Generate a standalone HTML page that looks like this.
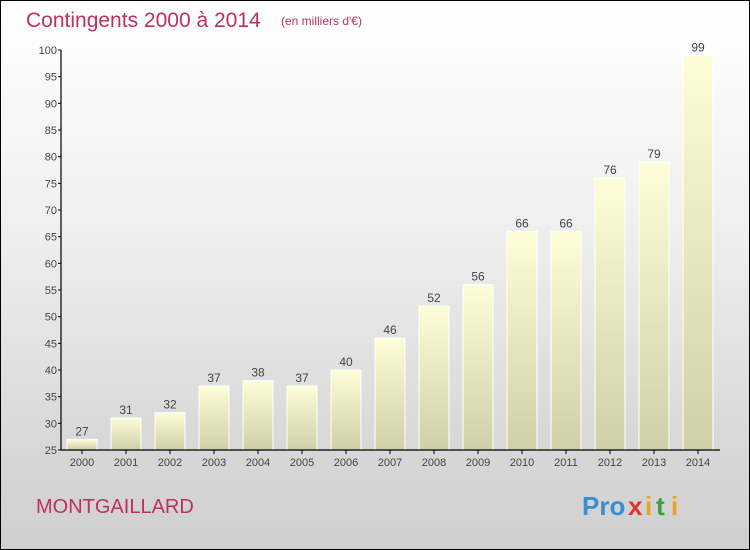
<!DOCTYPE html>
<html><head><meta charset="utf-8"><style>
html,body{margin:0;padding:0}
body{width:750px;height:550px;overflow:hidden;font-family:"Liberation Sans",sans-serif}
#wrap{position:absolute;left:0;top:0;width:748px;height:548px;border:1px solid #000;background:linear-gradient(#ffffff 0%,#f0f0f0 40%,#d8d8d8 80%,#cfcfcf 100%)}
</style></head><body>
<div id="wrap">
<svg id="chart" width="750" height="550" style="position:absolute;left:-1px;top:-1px">
<defs><linearGradient id="bg" x1="0" y1="0" x2="0" y2="1"><stop offset="0" stop-color="#fdfed8"/><stop offset="1" stop-color="#cfcfa8"/></linearGradient></defs>
<text x="26" y="27" font-size="21" fill="#c0305c">Contingents 2000 à 2014</text>
<text x="281" y="25" font-size="12" fill="#c0305c">(en milliers d'€)</text>
<text x="36" y="513" font-size="20" fill="#c0305c">MONTGAILLARD</text>
<g font-size="26" font-weight="bold">
<text x="582" y="515" fill="#3a8fd0">Pro</text><text x="628" y="515" fill="#e03030">x</text><text x="645" y="515" fill="#f0a020">i</text><text x="656" y="515" fill="#3aa040">t</text><text x="671" y="515" fill="#f0a020">i</text>
</g>
<g id="bars"></g><g id="axes"></g>
</svg></div>
<script>
const years=["2000","2001","2002","2003","2004","2005","2006","2007","2008","2009","2010","2011","2012","2013","2014"];
const values=[27,31,32,37,38,37,40,46,52,56,66,66,76,79,99];
const yTicks=[25,30,35,40,45,50,55,60,65,70,75,80,85,90,95,100];
const NS="http://www.w3.org/2000/svg";
const y=v=>450-(v-25)*400/75;
const x=i=>67+i*44;
const bars=document.getElementById('bars'),axes=document.getElementById('axes');
function mk(tag,attrs,parent){const e=document.createElementNS(NS,tag);for(const k in attrs)e.setAttribute(k,attrs[k]);parent.appendChild(e);return e;}
values.forEach((v,i)=>{
 const r=mk('rect',{x:x(i),y:y(v),width:30,height:450-y(v),fill:'url(#bg)',stroke:'#ffffff','stroke-width':1},bars);
 
 
 const t=mk('text',{x:x(i)+15,y:y(v)-4,'font-size':12,'text-anchor':'middle',fill:'#444'},bars);
 t.textContent=v;
 
 
 const xl=mk('text',{x:x(i)+15,y:466,'font-size':11,'text-anchor':'middle',fill:'#444'},axes);
 xl.textContent=years[i];
 
 
 mk('line',{x1:x(i)+15,x2:x(i)+15,y1:450,y2:454,stroke:'#000'},axes);
});
yTicks.forEach(v=>{
 mk('line',{x1:58,x2:61,y1:y(v),y2:y(v),stroke:'#000'},axes);
 const t=mk('text',{x:57,y:y(v)+4,'font-size':11,'text-anchor':'end',fill:'#444'},axes);
 t.textContent=v;
 
 
});
const ya=mk('line',{x1:61,x2:61,y1:y(100),y2:450,stroke:'#000','stroke-width':1.2},axes);


const xa=mk('line',{x1:61,x2:720,y1:450,y2:450,stroke:'#000','stroke-width':1.2},axes);


</script>
</body></html>
